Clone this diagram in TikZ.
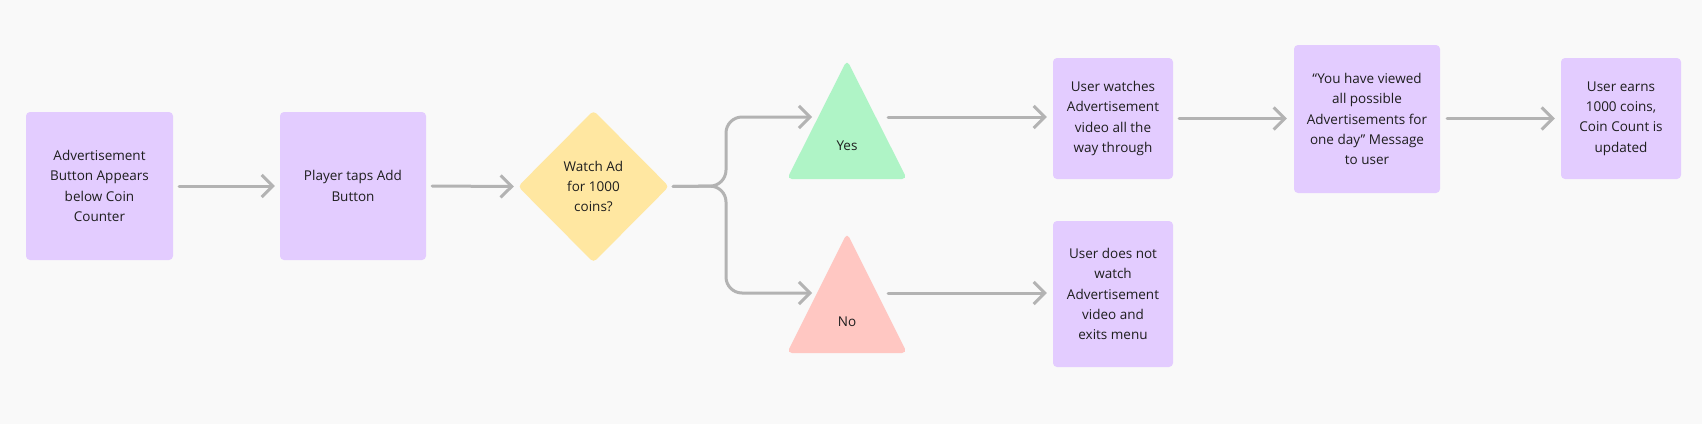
\documentclass[tikz,border=0pt]{standalone}
\usepackage{fontspec}
\setmainfont{Open Sans}
\usetikzlibrary{arrows.meta,shapes.geometric}
\definecolor{bg}{HTML}{F9F9F9}
\definecolor{purp}{HTML}{E3CCFF}
\definecolor{yel}{HTML}{FFE7A1}
\definecolor{grn}{HTML}{AFF4C6}
\definecolor{pnk}{HTML}{FFC7C2}
\definecolor{lgray}{HTML}{B3B3B3}
\definecolor{txt}{HTML}{1E1E1E}
\tikzset{
  lbl/.style={align=center, inner sep=0pt, text=txt, font=\fontsize{13.5}{20.3}\selectfont},
  procbox/.style={lbl, fill=purp, rounded corners=4pt},
  decbox/.style={lbl, diamond, fill=yel, rounded corners=4pt, minimum width=151pt, minimum height=152pt},
  conn/.style={draw=lgray, line width=3pt, line cap=round, line join=round, -{Straight Barb[length=11pt,width=22pt]}},
  tri/.style={rounded corners=5pt}
}
\begin{document}
\begin{tikzpicture}[x=1pt,y=-1pt]
\fill[bg] (0,0) rectangle (1702,424);
\useasboundingbox (0,0) rectangle (1702,424);

% nodes
\node[procbox, minimum width=147pt, minimum height=148pt] (b1) at (99.5,186) {Advertisement\\Button Appears\\below Coin\\Counter};
\node[procbox, minimum width=146pt, minimum height=148pt] (b2) at (353,186) {Player taps Add\\Button};
\node[decbox] (dia) at (593.5,186.5) {Watch Ad\\for 1000\\coins?};

% triangles
\fill[grn, tri] (847,60) -- (907,179) -- (787,179) -- cycle;
\fill[pnk, tri] (847,233) -- (907,353) -- (787,353) -- cycle;
\node[lbl] (yes) at (847,146) {Yes};
\node[lbl] (no) at (847,322) {No};
\coordinate (yesL) at (812,117);
\coordinate (yesR) at (888,117);
\coordinate (noL) at (812,293);
\coordinate (noR) at (888,293);

\node[procbox, minimum width=120pt, minimum height=121pt] (b3) at (1113,118.5) {User watches\\Advertisement\\video all the\\way through};
\node[procbox, minimum width=120pt, minimum height=146pt] (b4) at (1113,294) {User does not\\watch\\Advertisement\\video and\\exits menu};
\node[procbox, minimum width=146pt, minimum height=148pt] (b5) at (1367,119) {“You have viewed\\all possible\\Advertisements for\\one day” Message\\to user};
\node[procbox, minimum width=120pt, minimum height=121pt] (b6) at (1621,118.5) {User earns\\1000 coins,\\Coin Count is\\updated};

% connectors
\draw[conn, shorten <=6pt, shorten >=5pt] (b1.east) -- (b2.west);
\draw[conn, shorten <=6pt, shorten >=4pt] (b2.east) -- (dia.west);
\coordinate (fk) at (726,186);
\draw[conn, rounded corners=16pt, shorten <=4pt] (dia.east) -- (fk) -- (fk |- yesL) -- (yesL);
\draw[conn, rounded corners=16pt, shorten <=4pt] (dia.east) -- (fk) -- (fk |- noL) -- (noL);
\draw[conn, shorten >=6pt] (yesR) -- (yesR -| b3.west);
\draw[conn, shorten >=6pt] (noR) -- (noR -| b4.west);
\draw[conn, shorten <=6pt, shorten >=7pt] (b3.east) -- (b3.east -| b5.west);
\draw[conn, shorten <=7pt, shorten >=6pt] (b5.east |- b6.west) -- (b6.west);
\end{tikzpicture}
\end{document}
